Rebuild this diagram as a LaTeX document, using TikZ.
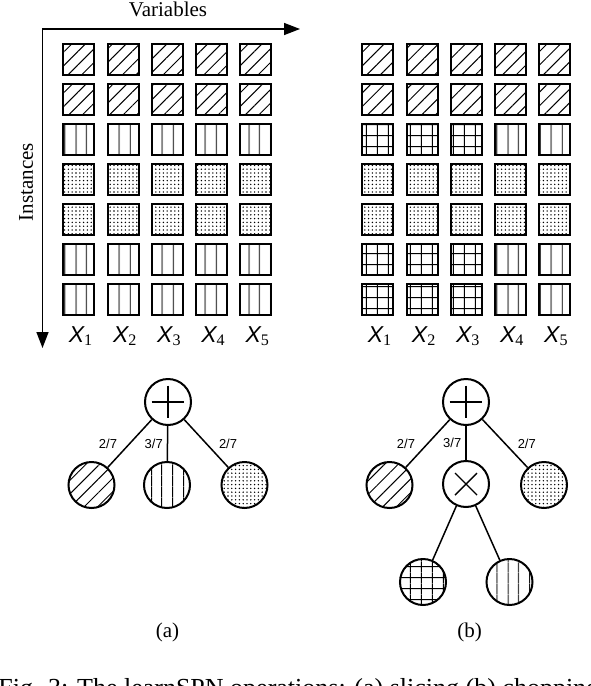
\documentclass[tikz,border=0pt]{standalone}
\usepackage{fontspec}
\setmainfont{Liberation Serif}
\setsansfont{Liberation Sans}
\usetikzlibrary{arrows.meta,positioning,patterns.meta}

\tikzset{
  cell/.style={draw,line width=1pt,minimum size=15.5pt,inner sep=0pt},
  hdiag/.style={pattern={Lines[angle=45,distance=4.8pt,line width=.5pt]}},
  hvert/.style={pattern={Lines[angle=90,distance=5.4pt,line width=.5pt]}},
  hgrid/.style={pattern={Hatch[angle=0,distance=5.4pt,line width=.5pt]}},
  hdots/.style={pattern={Dots[distance=1.9pt,radius=.38pt]}},
  leaf/.style={circle,draw,line width=1pt,minimum size=23pt,inner sep=0pt},
  sumop/.style={leaf,fill=white,path picture={
    \draw[line width=.7pt] ([xshift=3.3pt]path picture bounding box.west) -- ([xshift=-3.3pt]path picture bounding box.east);
    \draw[line width=.7pt] ([yshift=-3.3pt]path picture bounding box.north) -- ([yshift=3.3pt]path picture bounding box.south);}},
  prodop/.style={leaf,fill=white,path picture={
    \draw[line width=.7pt] ([shift={(-5.5pt,5.5pt)}]path picture bounding box.center) -- ([shift={(5.5pt,-5.5pt)}]path picture bounding box.center);
    \draw[line width=.7pt] ([shift={(-5.5pt,-5.5pt)}]path picture bounding box.center) -- ([shift={(5.5pt,5.5pt)}]path picture bounding box.center);}},
  edge/.style={line width=.75pt},
  wt/.style={font=\sffamily\fontsize{6.5}{7}\selectfont,inner sep=1pt},
  varlab/.style={font=\fontsize{11.5}{13}\selectfont},
  axlab/.style={font=\fontsize{10.5}{12}\selectfont}
}

\newcommand{\xv}[1]{{\sffamily\itshape X}\textsubscript{#1}}

\begin{document}
\begin{tikzpicture}[x=0.5pt,y=-0.5pt]
\useasboundingbox (0,0) rectangle (590,686);
\clip (0,0) rectangle (590,686);

% axes
\coordinate (o) at (42.5,29);
\coordinate (xend) at (300,29);
\coordinate (yend) at (42.5,348);
\draw[line width=.75pt,{Triangle[length=8pt,width=6pt]}-{Triangle[length=8pt,width=6pt]}] (xend) -- (o) -- (yend);
\node[axlab] (var) at (168,9) {Variables};
\node[axlab,rotate=90] (ins) at (26,182) {Instances};

% data matrix (a)
\foreach \r/\pa in {1/hdiag,2/hdiag,3/hvert,4/hdots,5/hdots,6/hvert,7/hvert}{
  \foreach \c in {1,...,5}{
    \node[cell,\pa] (a\r\c) at ({78.8+44.2*(\c-1)},{59.8+40*(\r-1)}) {};
  }
}
% data matrix (b)
\foreach \r/\pa/\pb in {1/hdiag/hdiag,2/hdiag/hdiag,3/hgrid/hvert,4/hdots/hdots,5/hdots/hdots,6/hgrid/hvert,7/hgrid/hvert}{
  \foreach \c in {1,...,5}{
    \ifnum\c<4
      \node[cell,\pa] (b\r\c) at ({377.9+44.1*(\c-1)},{59.8+40*(\r-1)}) {};
    \else
      \node[cell,\pb] (b\r\c) at ({377.9+44.1*(\c-1)},{59.8+40*(\r-1)}) {};
    \fi
  }
}
\foreach \c in {1,...,5}{
  \node[varlab] (xa\c) at ({81+44.2*(\c-1)},336) {\xv{\c}};
  \node[varlab] (xb\c) at ({380+44.1*(\c-1)},336) {\xv{\c}};
}

% SPN (a): slicing
\node[sumop] (sa) at (168,402) {};
\node[leaf,hdiag] (la1) at (91.5,485) {};
\node[leaf,hvert] (la2) at (167,485) {};
\node[leaf,hdots] (la3) at (244.5,485) {};
\draw[edge] (sa) -- node[wt,left=5pt] {2/7} (la1);
\draw[edge] (sa) -- node[wt,left=1pt] {3/7} (la2);
\draw[edge] (sa) -- node[wt,right=5pt] {2/7} (la3);
\node[axlab] (capa) at (167.5,632) {(a)};

% SPN (b): chopping
\node[sumop] (sb) at (466,402) {};
\node[leaf,hdiag] (lb1) at (389.5,485) {};
\node[prodop] (pb) at (466,484) {};
\node[leaf,hdots] (lb3) at (544,485) {};
\node[leaf,hgrid] (lb4) at (423,582) {};
\node[leaf,hvert] (lb5) at (509.5,582) {};
\draw[edge] (sb) -- node[wt,left=5pt] {2/7} (lb1);
\draw[edge] (sb) -- node[wt,left=1pt] {3/7} (pb);
\draw[edge] (sb) -- node[wt,right=5pt] {2/7} (lb3);
\draw[edge] (pb) -- (lb4);
\draw[edge] (pb) -- (lb5);
\node[axlab] (capb) at (469.5,632) {(b)};

% caption, cut at the lower edge
\node[anchor=base west,font=\fontsize{13}{15}\selectfont,inner sep=0pt] (cap) at (-2,696) {Fig. 3: The learnSPN operations: (a) slicing (b) chopping};
\end{tikzpicture}
\end{document}
